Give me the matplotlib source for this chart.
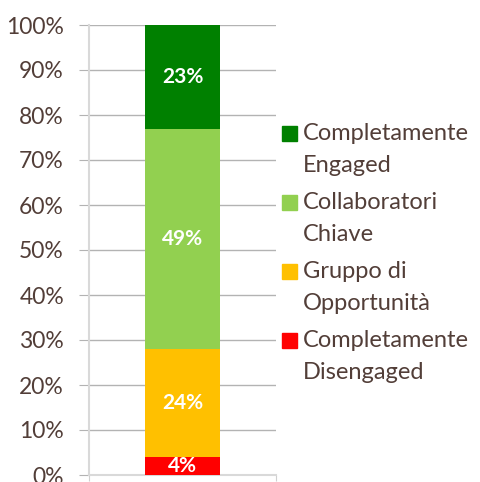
import matplotlib
matplotlib.use("Agg")
import matplotlib.pyplot as plt
from matplotlib.patches import Rectangle
from matplotlib.ticker import PercentFormatter

# data, bottom to top
segments = ["Completamente\nDisengaged", "Gruppo di\nOpportunità",
            "Collaboratori\nChiave", "Completamente\nEngaged"]
shares = [4, 24, 49, 23]
colors = ["#ff0000", "#ffc000", "#92d050", "#008000"]

text_col = "#523e38"
plt.rcParams["font.family"] = ["Lato", "DejaVu Sans"]

fig = plt.figure(figsize=(4.8, 4.82), dpi=100)
ax = fig.add_axes([89 / 480, 1 - 475 / 482, 187 / 480, 450 / 482])

bottom = 0
for name, val, col in zip(segments, shares, colors):
    bars = ax.bar(0, val, width=0.4, bottom=bottom, color=col, zorder=3)
    ax.bar_label(bars, labels=[f"{val}%"], label_type="center",
                 color="white", fontsize=15, fontweight="bold")
    bottom += val

ax.set_xlim(-0.5, 0.5)
ax.set_ylim(0, 100)
ax.set_yticks(range(0, 101, 10))
ax.yaxis.set_major_formatter(PercentFormatter(decimals=0))
ax.tick_params(axis="y", length=7, color="#b3b3b3", labelsize=16.5,
               labelcolor=text_col, pad=11)
ax.set_xticks([-0.5, 0.5])
ax.set_xticklabels([])
ax.tick_params(axis="x", length=4, color="#d0d0d0")
ax.grid(axis="y", color="#b3b3b3", linewidth=1, zorder=0)

for side in ["top", "right"]:
    ax.spines[side].set_visible(False)
ax.spines["left"].set_color("#d9d9d9")
ax.spines["left"].set_linewidth(1.5)
ax.spines["bottom"].set_color("#d9d9d9")
ax.spines["bottom"].set_linewidth(1.5)

# legend, top to bottom, square aligned with first line
W, H = 480, 482
for i, (name, col) in enumerate(zip(segments[::-1], colors[::-1])):
    base = 140 + i * 69
    fig.patches.append(Rectangle((282 / W, 1 - (base + 1) / H), 15 / W, 15 / H,
                                 transform=fig.transFigure, color=col))
    for j, line in enumerate(name.split("\n")):
        fig.text(303 / W, 1 - (base + j * 32) / H, line, fontsize=17,
                 color=text_col, va="baseline", ha="left")

fig.savefig("out.png", dpi=100)
